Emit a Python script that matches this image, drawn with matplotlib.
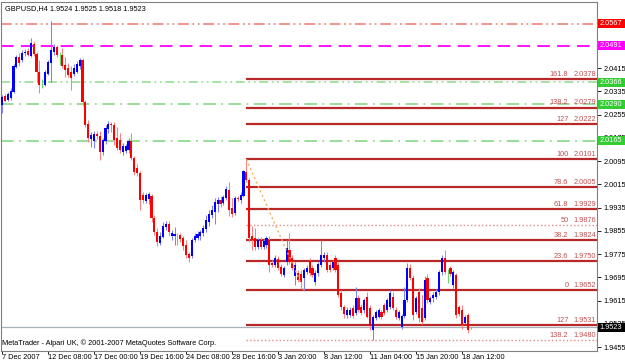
import matplotlib
matplotlib.use("Agg")
import matplotlib.pyplot as plt
import matplotlib.transforms as mtrans
from matplotlib.patches import Rectangle
import numpy as np

plt.rcParams['font.family'] = ['Liberation Sans', 'DejaVu Sans']
FS = 5.3

header = "GBPUSD,H4 1.9524 1.9525 1.9518 1.9523"
footer = "MetaTrader - Alpari UK, \u00a9 2001-2007 MetaQuotes Software Corp."

# H4 candles, left to right
opens = [2.0288, 2.0319, 2.0305, 2.0312, 2.0333, 2.0419, 2.0453, 2.0443, 2.0467, 2.0474,
         2.0456, 2.0498, 2.0463, 2.0401, 2.0363, 2.0357, 2.0394, 2.0432, 2.0470, 2.0487,
         2.0456, 2.0460, 2.0425, 2.0415, 2.0401, 2.0394, 2.0401, 2.0422, 2.0443, 2.0298,
         2.0222, 2.0171, 2.0164, 2.0188, 2.0181, 2.0126, 2.0164, 2.0205, 2.0222, 2.0219,
         2.0174, 2.0167, 2.0126, 2.0130, 2.0133, 2.0164, 2.0105, 2.0071, 2.0054, 1.9978,
         1.9958, 1.9964, 1.9975, 1.9899, 1.9851, 1.9813, 1.9834, 1.9868, 1.9878, 1.9837,
         1.9837, 1.9837, 1.9841, 1.9830, 1.9806, 1.9775, 1.9768, 1.9823, 1.9830, 1.9837,
         1.9847, 1.9861, 1.9885, 1.9909, 1.9920, 1.9947, 1.9961, 1.9951, 1.9968, 1.9995,
         1.9934, 1.9916, 1.9968, 1.9961, 1.9975, 2.0057, 2.0030, 1.9837, 1.9830, 1.9799,
         1.9823, 1.9799, 1.9806, 1.9823, 1.9744, 1.9737, 1.9758, 1.9731, 1.9703, 1.9748,
         1.9789, 1.9761, 1.9700, 1.9710, 1.9706, 1.9693, 1.9713, 1.9751, 1.9727, 1.9679,
         1.9710, 1.9737, 1.9761, 1.9772, 1.9737, 1.9727, 1.9761, 1.9737, 1.9641, 1.9593,
         1.9565, 1.9565, 1.9589, 1.9572, 1.9624, 1.9593, 1.9583, 1.9627, 1.9589, 1.9514,
         1.9555, 1.9558, 1.9576, 1.9600, 1.9583, 1.9593, 1.9627, 1.9583, 1.9555, 1.9524,
         1.9562, 1.9617, 1.9727, 1.9693, 1.9576, 1.9645, 1.9589, 1.9555, 1.9693, 1.9610,
         1.9624, 1.9627, 1.9645, 1.9713, 1.9761, 1.9713, 1.9727, 1.9669, 1.9703, 1.9593,
         1.9583, 1.9538, 1.9565, 1.9524]
highs = [2.0322, 2.0326, 2.0333, 2.0346, 2.0429, 2.0460, 2.0467, 2.0477, 2.0480, 2.0484,
         2.0518, 2.0508, 2.0470, 2.0443, 2.0377, 2.0408, 2.0443, 2.0577, 2.0498, 2.0494,
         2.0470, 2.0484, 2.0453, 2.0432, 2.0422, 2.0429, 2.0439, 2.0449, 2.0449, 2.0305,
         2.0236, 2.0195, 2.0198, 2.0198, 2.0198, 2.0174, 2.0219, 2.0233, 2.0229, 2.0229,
         2.0212, 2.0191, 2.0157, 2.0154, 2.0174, 2.0191, 2.0112, 2.0085, 2.0061, 1.9988,
         1.9985, 1.9988, 1.9982, 1.9909, 1.9865, 1.9851, 1.9885, 1.9889, 1.9889, 1.9858,
         1.9868, 1.9847, 1.9847, 1.9837, 1.9823, 1.9782, 1.9830, 1.9847, 1.9854, 1.9858,
         1.9875, 1.9909, 1.9927, 1.9944, 1.9968, 1.9971, 1.9975, 1.9978, 2.0009, 2.0023,
         1.9968, 1.9975, 1.9975, 1.9988, 2.0064, 2.0101, 2.0037, 1.9871, 1.9865, 1.9830,
         1.9834, 1.9827, 1.9837, 1.9837, 1.9755, 1.9772, 1.9768, 1.9741, 1.9734, 1.9823,
         1.9847, 1.9772, 1.9748, 1.9720, 1.9720, 1.9727, 1.9737, 1.9761, 1.9737, 1.9720,
         1.9748, 1.9823, 1.9782, 1.9782, 1.9748, 1.9755, 1.9772, 1.9748, 1.9651, 1.9600,
         1.9593, 1.9593, 1.9600, 1.9662, 1.9634, 1.9603, 1.9624, 1.9645, 1.9600, 1.9565,
         1.9583, 1.9589, 1.9583, 1.9607, 1.9624, 1.9651, 1.9645, 1.9593, 1.9583, 1.9569,
         1.9662, 1.9744, 1.9741, 1.9703, 1.9631, 1.9658, 1.9634, 1.9700, 1.9706, 1.9631,
         1.9645, 1.9655, 1.9720, 1.9772, 1.9789, 1.9724, 1.9734, 1.9720, 1.9710, 1.9600,
         1.9600, 1.9565, 1.9572, 1.9525]
lows = [2.0260, 2.0298, 2.0302, 2.0305, 2.0329, 2.0415, 2.0422, 2.0436, 2.0456, 2.0456,
        2.0453, 2.0456, 2.0367, 2.0329, 2.0346, 2.0353, 2.0391, 2.0367, 2.0460, 2.0453,
        2.0425, 2.0415, 2.0384, 2.0384, 2.0339, 2.0388, 2.0398, 2.0412, 2.0284, 2.0212,
        2.0160, 2.0143, 2.0140, 2.0171, 2.0099, 2.0116, 2.0154, 2.0191, 2.0195, 2.0150,
        2.0133, 2.0123, 2.0116, 2.0123, 2.0123, 2.0099, 2.0047, 2.0044, 1.9927, 1.9951,
        1.9951, 1.9947, 1.9885, 1.9841, 1.9803, 1.9806, 1.9830, 1.9858, 1.9837, 1.9823,
        1.9806, 1.9806, 1.9817, 1.9789, 1.9761, 1.9748, 1.9761, 1.9817, 1.9823, 1.9823,
        1.9837, 1.9851, 1.9871, 1.9899, 1.9878, 1.9920, 1.9937, 1.9944, 1.9961, 1.9906,
        1.9902, 1.9909, 1.9958, 1.9951, 1.9971, 2.0023, 1.9817, 1.9789, 1.9789, 1.9793,
        1.9793, 1.9793, 1.9796, 1.9713, 1.9731, 1.9731, 1.9720, 1.9700, 1.9696, 1.9737,
        1.9741, 1.9720, 1.9669, 1.9679, 1.9655, 1.9652, 1.9706, 1.9700, 1.9696, 1.9669,
        1.9700, 1.9731, 1.9751, 1.9713, 1.9713, 1.9720, 1.9713, 1.9627, 1.9583, 1.9555,
        1.9555, 1.9558, 1.9555, 1.9565, 1.9576, 1.9565, 1.9572, 1.9555, 1.9514, 1.9480,
        1.9548, 1.9555, 1.9552, 1.9565, 1.9576, 1.9586, 1.9583, 1.9552, 1.9548, 1.9517,
        1.9555, 1.9610, 1.9686, 1.9548, 1.9569, 1.9541, 1.9534, 1.9548, 1.9607, 1.9603,
        1.9610, 1.9620, 1.9634, 1.9703, 1.9706, 1.9676, 1.9700, 1.9658, 1.9555, 1.9562,
        1.9517, 1.9534, 1.9503, 1.9518]
closes = [2.0315, 2.0302, 2.0326, 2.0336, 2.0422, 2.0453, 2.0432, 2.0467, 2.0470, 2.0460,
          2.0501, 2.0463, 2.0401, 2.0357, 2.0363, 2.0401, 2.0436, 2.0477, 2.0487, 2.0460,
          2.0456, 2.0422, 2.0408, 2.0391, 2.0381, 2.0415, 2.0429, 2.0443, 2.0298, 2.0219,
          2.0174, 2.0185, 2.0188, 2.0181, 2.0126, 2.0167, 2.0209, 2.0222, 2.0219, 2.0167,
          2.0140, 2.0133, 2.0147, 2.0147, 2.0164, 2.0105, 2.0057, 2.0054, 1.9961, 1.9961,
          1.9978, 1.9982, 1.9899, 1.9851, 1.9817, 1.9837, 1.9871, 1.9878, 1.9851, 1.9847,
          1.9844, 1.9837, 1.9827, 1.9803, 1.9772, 1.9761, 1.9823, 1.9837, 1.9844, 1.9851,
          1.9865, 1.9892, 1.9913, 1.9927, 1.9954, 1.9961, 1.9947, 1.9971, 1.9999, 1.9927,
          1.9913, 1.9968, 1.9964, 1.9978, 2.0061, 2.0030, 1.9830, 1.9823, 1.9799, 1.9823,
          1.9799, 1.9820, 1.9830, 1.9737, 1.9737, 1.9761, 1.9727, 1.9706, 1.9727, 1.9796,
          1.9748, 1.9727, 1.9737, 1.9686, 1.9679, 1.9720, 1.9727, 1.9710, 1.9703, 1.9710,
          1.9741, 1.9772, 1.9772, 1.9720, 1.9720, 1.9748, 1.9720, 1.9634, 1.9593, 1.9569,
          1.9583, 1.9583, 1.9562, 1.9624, 1.9583, 1.9572, 1.9617, 1.9558, 1.9528, 1.9558,
          1.9576, 1.9583, 1.9558, 1.9572, 1.9617, 1.9641, 1.9589, 1.9558, 1.9576, 1.9562,
          1.9617, 1.9727, 1.9693, 1.9565, 1.9624, 1.9555, 1.9541, 1.9686, 1.9617, 1.9624,
          1.9634, 1.9645, 1.9713, 1.9761, 1.9713, 1.9713, 1.9706, 1.9713, 1.9565, 1.9569,
          1.9531, 1.9558, 1.9514, 1.9523]

date_labels = ["7 Dec 2007", "12 Dec 08:00", "17 Dec 00:00", "19 Dec 16:00", "24 Dec 08:00",
               "28 Dec 16:00", "3 Jan 20:00", "8 Jan 12:00", "11 Jan 04:00", "15 Jan 20:00",
               "18 Jan 12:00"]
date_bars = [0, 16, 32, 48, 64, 80, 96, 112, 128, 144, 160]

# right scale; the two top ones sit fully under the price boxes
price_ticks = [1.9455, 1.9535, 1.9615, 1.9695, 1.9775, 1.9855, 1.9935, 2.0015, 2.0095,
               2.0175, 2.0255, 2.0335, 2.0415, 2.0495, 2.0575]
price_tick_labels = ["1.9455", "1.9535", "1.9615", "1.9695", "1.9775", "1.9855", "1.9935",
                     "2.0015", "2.0095", "2.0175", "2.0255", "2.0335", "2.0415", "", ""]

fib_names = ["161.8", "138.2", "127", "100", "78.6", "61.8", "50", "38.2", "23.6", "0", "127", "138.2"]
fib_prices = [2.0378, 2.0279, 2.0222, 2.0101, 2.0005, 1.9929, 1.9876, 1.9824, 1.9750, 1.9652, 1.9531, 1.9480]
fib_start = 85
fib_end = 105

level_prices = [2.0567, 2.0491, 2.0366, 2.0290, 2.0165]
level_colors = ["#f08c84", "#ff00ff", "#9ee09e", "#8fdc8f", "#8fdc8f"]
level_boxes = ["#ff0000", "#ff00ff", "#32cd32", "#32cd32", "#32cd32"]
level_dashes = [(6, 2, 1, 2, 1, 2), (7, 4), (5, 2, 1, 2, 1, 2), (7, 3, 1, 3), (7, 3, 1, 3)]
last_price = 1.9523

fig = plt.figure(figsize=(6.25, 3.62), dpi=100)
ax = fig.add_axes([1 / 625, 11 / 362, 596 / 625, 349 / 362])
ax.set_xlim(-0.35, 206.96)
ax.set_ylim(1.94416, 2.06421)

o = np.array(opens)
h = np.array(highs)
l = np.array(lows)
c = np.array(closes)
idx = np.arange(len(c))

up = c > o
down = c < o
doji = c == o

wick_col = np.where(up, "#7f7fff", np.where(down, "#ff8080", "#66dd66"))
ax.vlines(idx, l, h, colors=wick_col, linewidth=0.75, zorder=3)
body_low = np.minimum(o, c)
body_h = np.maximum(np.abs(c - o), 0.00012)
ax.bar(idx[up], body_h[up], bottom=body_low[up], width=0.75, color="#0000ff", zorder=4, linewidth=0)
ax.bar(idx[down], body_h[down], bottom=body_low[down], width=0.75, color="#ff0000", zorder=4, linewidth=0)
ax.bar(idx[doji], body_h[doji], bottom=body_low[doji], width=0.75, color="#33cc33", zorder=4, linewidth=0)

# horizontal levels
for p, col, ds in zip(level_prices, level_colors, level_dashes):
    ax.axhline(p, color=col, linewidth=1.3, dashes=ds, zorder=2)
ax.axhline(last_price, color="#a8b0b8", linewidth=0.9, zorder=2)

# price boxes on the right scale, covering the tick labels beneath
trans = mtrans.blended_transform_factory(ax.transAxes, ax.transData)
box_h = 0.0031
for p, bc in zip(level_prices + [last_price], level_boxes + ["#000000"]):
    ax.add_patch(Rectangle((1.0017, p - box_h / 2), 0.05, box_h, transform=trans,
                           facecolor=bc, edgecolor="none", clip_on=False, zorder=9))
    ax.text(1.0045, p, "%.4f" % p, transform=trans, fontsize=FS, color="white", va="center",
            ha="left", zorder=10, clip_on=False)

# fibonacci retracement
for name, p in zip(fib_names, fib_prices):
    light = name in ("50",) or p < 1.95
    ax.plot([fib_start, 206.96], [p, p], color="#e08a8a" if light else "#b82828",
            linewidth=1.0 if light else 1.6, linestyle=":" if light else "-", zorder=2,
            solid_capstyle="butt")
    ax.text(0.952, p + 0.0004, name, transform=trans, fontsize=FS, color="#c05050",
            ha="right", va="bottom", zorder=6)
    ax.text(0.999, p + 0.0004, "%.4f" % p, transform=trans, fontsize=FS, color="#c05050",
            ha="right", va="bottom", zorder=6)
ax.plot([fib_start, fib_end], [fib_prices[3], fib_prices[9]], color="#f0b060",
        linewidth=1.0, linestyle=(0, (1.5, 2)), zorder=5)

ax.text(0.006, 0.992, header, transform=ax.transAxes, fontsize=FS, ha="left", va="top")
ax.text(0.002, 0.012, footer, transform=ax.transAxes, fontsize=FS, ha="left", va="bottom")

ax.yaxis.tick_right()
ax.set_yticks(price_ticks)
ax.set_yticklabels(price_tick_labels)
ax.tick_params(axis="y", labelsize=FS, length=3, pad=1.5, width=0.6, colors="black")
ax.set_xticks(date_bars)
ax.set_xticklabels(date_labels, ha="left")
ax.tick_params(axis="x", labelsize=FS, length=2.2, pad=0.3, width=0.6)
for s in ax.spines.values():
    s.set_color("#808080")
    s.set_linewidth(0.8)

fig.savefig("out.png", dpi=100)
